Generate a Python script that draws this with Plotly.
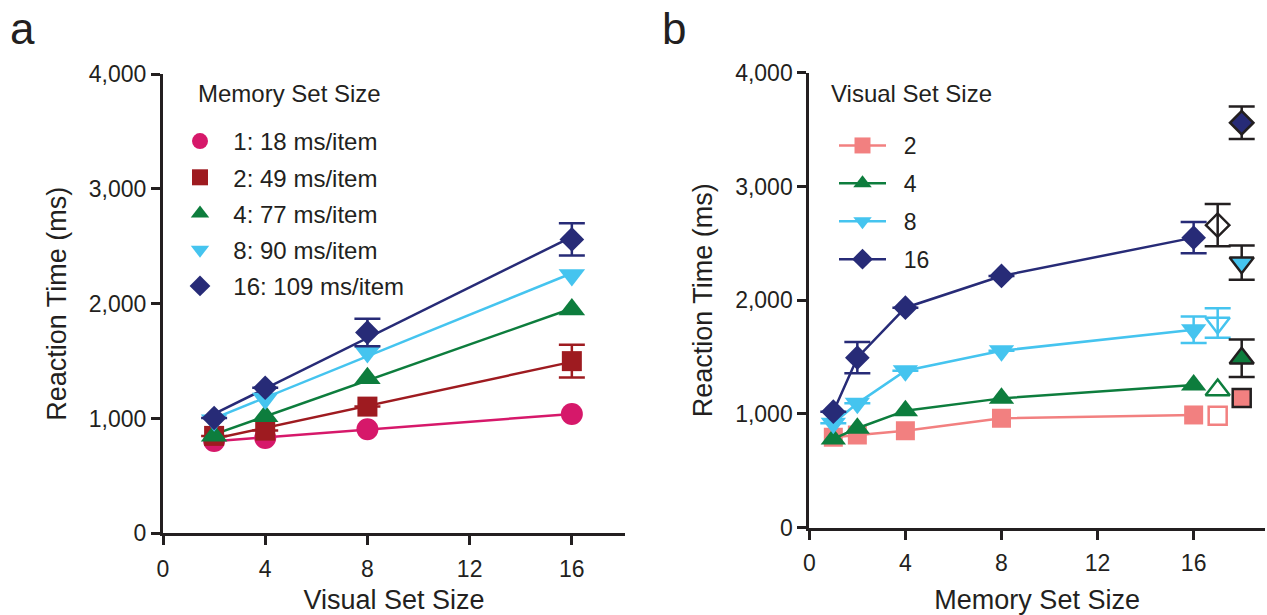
import numpy as np
import plotly.graph_objects as go

# ---------------- data: panel a ----------------
visual_a = [2, 4, 8, 16]
mem_labels = ["1: 18 ms/item", "2: 49 ms/item", "4: 77 ms/item", "8: 90 ms/item", "16: 109 ms/item"]
mem1 = [805, 830, 907, 1040]
mem2 = [849, 895, 1104, 1500]
mem4 = [850, 1020, 1350, 1950]
mem8 = [985, 1175, 1580, 2250]
mem16 = [1005, 1268, 1750, 2560]
mem2_err = [None, None, None, 143]
mem16_err = [None, None, 120, 140]

# ---------------- data: panel b ----------------
memory_b = [1, 2, 4, 8, 16]
vis_labels = ["2", "4", "8", "16"]
vis2 = [795, 815, 853, 962, 991]
vis4 = [780, 874, 1029, 1137, 1254]
vis8 = [918, 1093, 1380, 1556, 1740]
vis16 = [1020, 1495, 1934, 2213, 2550]
vis8_err = [None, None, None, None, 117]
vis16_err = [None, 138, None, None, 137]
# extra conditions drawn right of the curves (hollow at 17, filled at 18)
open_x = 17
filled_x = 18
open_vals = [985, 1211, 1800, 2660]
open_err = [None, None, 130, 185]
filled_vals = [1140, 1490, 2330, 3560]
filled_err = [None, 165, 150, 142]

# ---------------- styles ----------------
INK = "#231f20"
FONT = "Arial, 'Liberation Sans', Helvetica, sans-serif"
cols_a = ["#d6186a", "#9e1b20", "#0d7d3d", "#45c4ef", "#272b77"]
syms_a = ["circle", "square", "triangle-up", "triangle-down", "diamond"]
sizes_a = [22, 20, 23, 23, 19]
cols_b = ["#f28080", "#0d7d3d", "#45c4ef", "#272b77"]
syms_b = ["square", "triangle-up", "triangle-down", "diamond"]
sizes_b = [19, 22, 22, 19]

W, H = 1267, 615

fig = go.Figure()

series_a = [mem1, mem2, mem4, mem8, mem16]
errs_a = [None, mem2_err, None, None, mem16_err]

# fitted lines first (under markers)
for vals, c in zip(series_a, cols_a):
    k, b0 = np.polyfit(visual_a, vals, 1)
    xs = [min(visual_a), max(visual_a)]
    fig.add_trace(go.Scatter(x=xs, y=[k * x + b0 for x in xs], mode="lines",
                             line=dict(color=c, width=2.5), showlegend=False,
                             hoverinfo="skip", xaxis="x", yaxis="y"))

NB = "\u00a0\u00a0"
for i, (vals, c, s, sz, e) in enumerate(zip(series_a, cols_a, syms_a, sizes_a, errs_a)):
    err = dict(type="data", array=e, visible=True, color=c, thickness=2.5, width=13) if e else None
    fig.add_trace(go.Scatter(x=visual_a, y=vals, mode="markers", name=NB + mem_labels[i],
                             marker=dict(symbol=s, size=sz, color=c, line=dict(width=0)),
                             error_y=err, legend="legend", legendgroup="a%d" % i,
                             xaxis="x", yaxis="y"))

series_b = [vis2, vis4, vis8, vis16]
errs_b = [None, None, vis8_err, vis16_err]
for i, (vals, c, s, sz, e) in enumerate(zip(series_b, cols_b, syms_b, sizes_b, errs_b)):
    err = dict(type="data", array=e, visible=True, color=c, thickness=2.5, width=13) if e else None
    fig.add_trace(go.Scatter(x=memory_b, y=vals, mode="lines+markers", name=NB + vis_labels[i],
                             line=dict(color=c, width=2.5),
                             marker=dict(symbol=s, size=sz, color=c, line=dict(width=0)),
                             error_y=err, legend="legend2", legendgroup="b%d" % i,
                             xaxis="x2", yaxis="y2"))

# hollow markers at x=17
for i, (v, e, c, s, sz) in enumerate(zip(open_vals, open_err, cols_b, syms_b, sizes_b)):
    oc = INK if i == 3 else c
    err = dict(type="data", array=[e], visible=True, color=oc, thickness=2.5, width=13) if e else None
    fig.add_trace(go.Scatter(x=[open_x], y=[v], mode="markers", showlegend=False,
                             marker=dict(symbol=s + "-open", size=sz - 1, color=oc, line=dict(width=2.5, color=oc)),
                             error_y=err, xaxis="x2", yaxis="y2"))

# filled, black-outlined markers at x=18
for i, (v, e, c, s, sz) in enumerate(zip(filled_vals, filled_err, cols_b, syms_b, sizes_b)):
    err = dict(type="data", array=[e], visible=True, color=INK, thickness=2.5, width=13) if e else None
    fig.add_trace(go.Scatter(x=[filled_x], y=[v], mode="markers", showlegend=False,
                             marker=dict(symbol=s, size=sz - 1, color=c, line=dict(width=2.5, color=INK)),
                             error_y=err, xaxis="x2", yaxis="y2"))

def px_x(p):
    return p / W

def px_y(p):
    return 1 - p / H

axis_common = dict(showline=True, linewidth=3, linecolor=INK, ticks="outside", ticklen=9,
                   tickwidth=2.5, tickcolor=INK, showgrid=False, zeroline=False,
                   tickfont=dict(family=FONT, size=23, color=INK), automargin=False)
xtick = dict(ticklabelstandoff=4)
title_font = dict(size=27, family=FONT, color=INK)

fig.update_layout(
    width=W, height=H, margin=dict(l=0, r=0, t=0, b=0),
    paper_bgcolor="white", plot_bgcolor="white",
    font=dict(family=FONT, color=INK),
    xaxis=dict(domain=[px_x(163), px_x(625)], range=[0, 18.08], tickvals=[0, 4, 8, 12, 16],
               title=dict(text="Visual Set Size", font=title_font, standoff=16),
               anchor="y", **xtick, **axis_common),
    yaxis=dict(domain=[px_y(533.4), px_y(74)], range=[0, 4000], tickvals=[0, 1000, 2000, 3000, 4000],
               tickformat=",d",
               title=dict(text="Reaction Time (ms)", font=title_font, standoff=15),
               anchor="x", **axis_common),
    xaxis2=dict(domain=[px_x(809.3), px_x(1265)], range=[0, 18.97], tickvals=[0, 4, 8, 12, 16],
                title=dict(text="Memory Set Size", font=title_font, standoff=16),
                anchor="y2", **xtick, **axis_common),
    yaxis2=dict(domain=[px_y(527.7), px_y(72.7)], range=[0, 4000], tickvals=[0, 1000, 2000, 3000, 4000],
                tickformat=",d",
                title=dict(text="Reaction Time (ms)", font=title_font, standoff=15),
                anchor="x2", **axis_common),
    legend=dict(x=px_x(180), y=px_y(119), xanchor="left", yanchor="top", bgcolor="rgba(0,0,0,0)",
                font=dict(family=FONT, size=24, color=INK), tracegroupgap=2, itemwidth=30,
                traceorder="grouped"),
    legend2=dict(x=px_x(834), y=px_y(124), xanchor="left", yanchor="top", bgcolor="rgba(0,0,0,0)",
                 font=dict(family=FONT, size=23, color=INK), tracegroupgap=5, itemwidth=47,
                 traceorder="grouped"),
    showlegend=True,
    annotations=[
        dict(text="a", x=px_x(8), y=px_y(2), xref="paper", yref="paper", xanchor="left", yanchor="top",
             showarrow=False, font=dict(family=FONT, size=44, color=INK)),
        dict(text="b", x=px_x(660), y=px_y(2), xref="paper", yref="paper", xanchor="left", yanchor="top",
             showarrow=False, font=dict(family=FONT, size=44, color=INK)),
        dict(text="Memory Set Size", x=px_x(196), y=px_y(93), xref="paper", yref="paper", xanchor="left",
             yanchor="middle", showarrow=False, font=dict(family=FONT, size=24, color=INK)),
        dict(text="Visual Set Size", x=px_x(829), y=px_y(93), xref="paper", yref="paper", xanchor="left",
             yanchor="middle", showarrow=False, font=dict(family=FONT, size=24, color=INK)),
    ],
)

fig.write_html("out.html", config={"displayModeBar": False},
               post_script="document.body.style.margin='0';document.body.style.overflow='hidden';")
